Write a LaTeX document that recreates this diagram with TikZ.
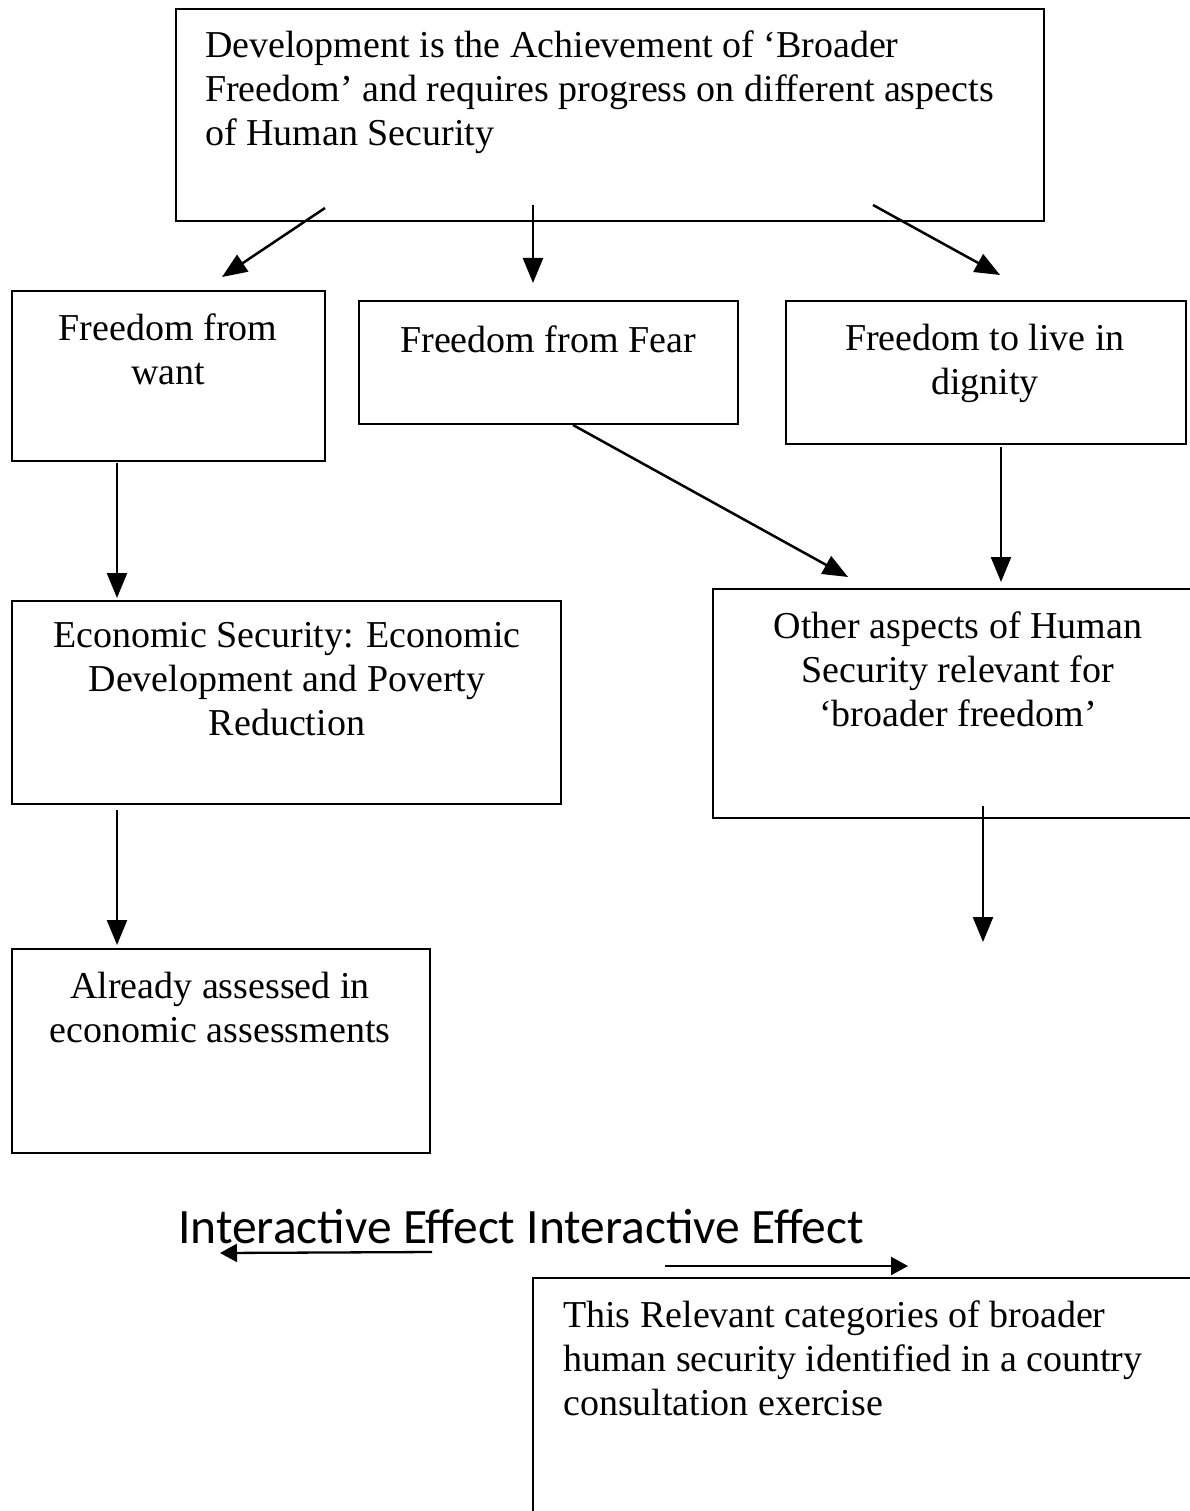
\documentclass[tikz,border=0pt]{standalone}
\usepackage{fontspec}
\setmainfont{Liberation Serif}
\newfontfamily\calib{Carlito}
\usetikzlibrary{arrows.meta}
\begin{document}
\begin{tikzpicture}[x=1pt,y=-1pt,
  box/.style={draw, line width=1.7pt, inner sep=0pt, anchor=north west},
  txt/.style={font=\fontsize{38}{44}\selectfont, align=center, inner sep=0pt, anchor=north},
  ltxt/.style={font=\fontsize{38}{44}\selectfont, align=left, inner sep=0pt, anchor=north west},
  arr/.style={-{Triangle[length=25pt,width=20pt]}, line width=2.5pt},
  harr/.style={-{Triangle[length=17pt,width=18pt]}, line width=2.3pt}]
\useasboundingbox (0,0) rectangle (1190,1511);
\clip (0,0) rectangle (1190,1511);
\fill[white] (0,0) rectangle (1190,1511);

% boxes
\node[box, minimum width=868pt, minimum height=212pt] (top) at (175,8) {};
\node[box, minimum width=313pt, minimum height=170pt] (want) at (11,290) {};
\node[box, minimum width=379pt, minimum height=123pt] (fear) at (358,300) {};
\node[box, minimum width=400pt, minimum height=143pt] (dign) at (785,300) {};
\node[box, minimum width=549pt, minimum height=203pt] (econ) at (11,600) {};
\node[box, minimum width=480pt, minimum height=229pt] (other) at (712,588) {};
\node[box, minimum width=418pt, minimum height=204pt] (already) at (11,948) {};
\node[box, minimum width=700pt, minimum height=300pt] (consult) at (532,1277) {};

% texts
\node[ltxt] (ttop) at (205,31) {Development is the Achievement of ‘Broader\\Freedom’ and requires progress on different aspects\\of Human Security};
\node[txt] (twant) at (168,314) {Freedom from\\want};
\node[txt] (tfear) at (548,326) {Freedom from Fear};
\node[txt] (tdign) at (985,324) {Freedom to live in\\dignity};
\node[txt] (tecon) at (287,622) {Economic Security: Economic\\Development and Poverty\\Reduction};
\node[txt] (tother) at (958,612) {Other aspects of Human\\Security relevant for\\‘broader freedom’};
\node[txt] (talready) at (220,972) {Already assessed in\\economic assessments};
\node[ltxt] (tconsult) at (563,1301) {This Relevant categories of broader\\human security identified in a country\\consultation exercise};
\node[inner sep=0pt, anchor=base west, font=\calib\fontsize{49.5}{56}\selectfont] (inter) at (178,1243) {Interactive Effect Interactive Effect};

% connector end points
\coordinate (a1s) at (325,208); \coordinate (a1e) at (222,277);
\coordinate (a2s) at (533,205); \coordinate (a2e) at (533,283);
\coordinate (a3s) at (873,205); \coordinate (a3e) at (1000,275);
\coordinate (b1s) at (117,463); \coordinate (b1e) at (117,598);
\coordinate (b2s) at (573,425); \coordinate (b2e) at (848,577);
\coordinate (b3s) at (1001,447); \coordinate (b3e) at (1001,582);
\coordinate (c1s) at (117,810); \coordinate (c1e) at (117,945);
\coordinate (c2s) at (983,806); \coordinate (c2e) at (983,942);
\coordinate (d1s) at (432,1252); \coordinate (d1e) at (220,1253);
\coordinate (d2s) at (665,1266); \coordinate (d2e) at (908,1266);

\draw[arr] (a1s) -- (a1e);
\draw[arr] (a2s) -- (a2e);
\draw[arr] (a3s) -- (a3e);
\draw[arr] (b1s) -- (b1e);
\draw[arr] (b2s) -- (b2e);
\draw[arr] (b3s) -- (b3e);
\draw[arr] (c1s) -- (c1e);
\draw[arr] (c2s) -- (c2e);
\draw[harr] (d1s) -- (d1e);
\draw[harr] (d2s) -- (d2e);
\end{tikzpicture}
\end{document}
